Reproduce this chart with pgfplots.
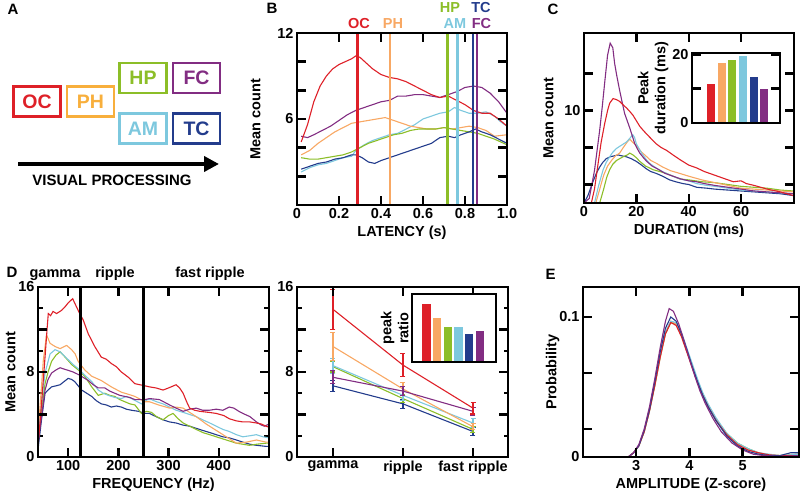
\documentclass[border=0pt]{standalone}
\usepackage{fontspec}
\setmainfont{Liberation Sans}
\usepackage{pgfplots}
\pgfplotsset{compat=1.18}
\usetikzlibrary{arrows.meta}

\definecolor{ocred}{RGB}{222,32,40}
\definecolor{phorange}{RGB}{248,168,100}
\definecolor{phbox}{RGB}{248,175,60}
\definecolor{hpgreen}{RGB}{140,190,40}
\definecolor{amcyan}{RGB}{125,200,222}
\definecolor{tcnavy}{RGB}{35,60,140}
\definecolor{fcpurple}{RGB}{130,45,130}

\newcommand{\lab}{\fontsize{14.5}{17}\selectfont\bfseries}

\pgfplotsset{
  panel/.style={
    scale only axis, anchor=south west,
    axis line style={line width=2.8pt},
    every tick/.style={line width=2.4pt, black},
    major tick length=9pt, minor tick length=4.5pt,
    tick align=inside, tick pos=both,
    scaled ticks=false,
    tick label style={font=\lab},
    label style={font=\lab},
    /pgf/number format/assume math mode=true,
    after end axis/.append code={\draw[line width=2.8pt] (rel axis cs:0,0) rectangle (rel axis cs:1,1);},
  },
  % tick marks on bottom and top edge
  hticks/.style n args={3}{after end axis/.append code={%
    \foreach \t in {#1} {%
      \draw[line width=2.4pt] (axis cs:\t,#2) -- ++(0,9pt);
      \draw[line width=2.4pt] (axis cs:\t,#3) -- ++(0,-9pt);}}},
  % tick marks on left and right edge
  vticks/.style n args={3}{after end axis/.append code={%
    \foreach \t in {#1} {%
      \draw[line width=2.4pt] (axis cs:#2,\t) -- ++(9pt,0);
      \draw[line width=2.4pt] (axis cs:#3,\t) -- ++(-9pt,0);}}},
  cv/.style={line width=1.1pt, mark=none},
}

\begin{document}
\begin{tikzpicture}
\path[use as bounding box] (0,0) rectangle (800pt,500pt);

% ---------- panel letters ----------
\node[anchor=base west, font=\fontsize{15}{15}\selectfont\bfseries] at (4pt,485pt) {A};
\node[anchor=base west, font=\fontsize{15}{15}\selectfont\bfseries] at (263pt,486pt) {B};
\node[anchor=base west, font=\fontsize{15}{15}\selectfont\bfseries] at (544pt,485pt) {C};
\node[anchor=base west, font=\fontsize{15}{15}\selectfont\bfseries] at (3pt,222pt) {D};
\node[anchor=base west, font=\fontsize{15}{15}\selectfont\bfseries] at (542pt,220pt) {E};

% ---------- A: diagram ----------
\tikzset{regionbox/.style={draw=#1, text=#1, line width=2.2pt, minimum width=47pt, minimum height=30pt,
  inner sep=0pt, font=\fontsize{19.5}{20}\selectfont\bfseries}}
\node[regionbox=ocred] at (37pt,398.5pt) {OC};
\node[regionbox=phbox] at (90.5pt,398.5pt) {PH};
\node[regionbox=hpgreen] at (143pt,422pt) {HP};
\node[regionbox=fcpurple] at (196.5pt,422pt) {FC};
\node[regionbox=amcyan] at (143pt,371.5pt) {AM};
\node[regionbox=tcnavy] at (196.5pt,371.5pt) {TC};
\draw[line width=4pt, -{Triangle[length=15pt, width=15pt]}] (18pt,336pt) -- (219pt,336pt);
\node[font=\fontsize{15}{15}\selectfont\bfseries] at (112pt,320pt) {VISUAL PROCESSING};

% ---------- B: latency ----------
\begin{axis}[panel, at={(297pt,295pt)}, width=210pt, height=172pt,
  xmin=0, xmax=1, ymin=0, ymax=12,
  xtick={0,0.2,0.4,0.6,0.8,1}, xticklabels={0,0.2,0.4,0.6,0.8,1.0},
  ytick={0,2,4,6,8,10,12}, yticklabels={,,,6,,,12},
  hticks={{0.2,0.4,0.6,0.8}{0}{12}}, vticks={{2,4,6,8,10}{0}{1}},
  xlabel={LATENCY (s)}, ylabel={Mean count}, ylabel shift=10pt]
\addplot[cv, amcyan] coordinates {(0.02,2.3) (0.06,2.6) (0.10,2.8) (0.14,2.9) (0.18,3.1) (0.22,3.3) (0.26,3.4) (0.28,3.8) (0.32,4.2) (0.36,4.5) (0.40,4.7) (0.44,4.9) (0.48,5.0) (0.52,5.3) (0.56,5.6) (0.60,6.0) (0.64,6.2) (0.68,6.4) (0.72,6.5) (0.75,6.8) (0.78,6.6) (0.82,6.4) (0.86,6.4) (0.90,6.5) (0.94,6.2) (0.97,5.8) (1.00,5.5)};
\addplot[cv, phorange] coordinates {(0.02,3.5) (0.06,3.8) (0.10,4.3) (0.14,4.7) (0.18,5.1) (0.22,5.4) (0.26,5.7) (0.30,5.8) (0.34,5.9) (0.38,6.0) (0.42,6.1) (0.46,5.9) (0.50,5.7) (0.54,5.5) (0.58,5.4) (0.62,5.3) (0.66,5.3) (0.70,5.4) (0.74,5.3) (0.78,5.4) (0.82,5.5) (0.86,5.4) (0.90,5.2) (0.94,4.8) (1.00,4.9)};
\addplot[cv, hpgreen] coordinates {(0.02,3.3) (0.06,3.2) (0.10,3.2) (0.14,3.3) (0.18,3.4) (0.22,3.5) (0.26,3.7) (0.30,4.0) (0.34,4.3) (0.38,4.5) (0.42,4.7) (0.46,4.9) (0.50,5.0) (0.54,5.2) (0.58,5.3) (0.62,5.3) (0.66,5.3) (0.70,5.4) (0.74,5.3) (0.78,5.2) (0.82,5.1) (0.86,5.0) (0.90,4.8) (0.94,4.6) (1.00,4.2)};
\addplot[cv, tcnavy] coordinates {(0.02,2.5) (0.06,2.7) (0.10,2.9) (0.14,3.0) (0.18,3.2) (0.22,3.3) (0.26,3.5) (0.28,3.5) (0.31,3.3) (0.34,3.0) (0.37,2.9) (0.40,3.1) (0.44,3.3) (0.48,3.5) (0.52,3.7) (0.56,3.9) (0.60,4.1) (0.64,4.3) (0.68,4.7) (0.72,4.8) (0.75,4.7) (0.78,4.9) (0.82,5.1) (0.85,5.3) (0.88,5.1) (0.92,4.9) (0.96,4.6) (1.00,4.3)};
\addplot[cv, fcpurple] coordinates {(0.02,4.8) (0.05,4.7) (0.08,4.9) (0.12,5.2) (0.16,5.5) (0.20,5.9) (0.24,6.3) (0.28,6.6) (0.32,6.8) (0.36,7.0) (0.40,7.2) (0.44,7.3) (0.48,7.6) (0.52,7.6) (0.56,7.7) (0.60,7.7) (0.64,7.6) (0.68,7.5) (0.72,7.7) (0.76,7.9) (0.80,8.2) (0.84,8.3) (0.88,8.2) (0.92,7.8) (0.96,7.2) (1.00,6.4)};
\addplot[cv, ocred] coordinates {(0.02,4.4) (0.05,5.6) (0.08,7.2) (0.11,8.3) (0.14,9.0) (0.17,9.5) (0.20,9.8) (0.23,10.0) (0.26,10.2) (0.28,10.4) (0.30,10.3) (0.33,9.9) (0.36,9.5) (0.40,9.1) (0.44,8.9) (0.48,8.8) (0.52,8.6) (0.56,8.3) (0.60,8.0) (0.64,7.7) (0.68,7.5) (0.72,7.6) (0.76,7.3) (0.80,7.0) (0.84,6.6) (0.88,6.4) (0.92,6.4) (0.96,6.0) (1.00,5.5)};
\addplot[ocred, line width=2.5pt] coordinates {(0.289,0) (0.289,12)};
\addplot[phorange, line width=2.5pt] coordinates {(0.444,0) (0.444,12)};
\addplot[hpgreen, line width=2.5pt] coordinates {(0.717,0) (0.717,12)};
\addplot[amcyan, line width=2.5pt] coordinates {(0.765,0) (0.765,12)};
\addplot[tcnavy, line width=2.5pt] coordinates {(0.838,0) (0.838,12)};
\addplot[fcpurple, line width=2.5pt] coordinates {(0.857,0) (0.857,12)};
\end{axis}
\node[anchor=base, text=ocred, font=\lab] at (359pt,471pt) {OC};
\node[anchor=base, text=phorange, font=\lab] at (393pt,471pt) {PH};
\node[anchor=base, text=hpgreen, font=\lab] at (450pt,487pt) {HP};
\node[anchor=base, text=amcyan, font=\lab] at (455pt,471pt) {AM};
\node[anchor=base, text=tcnavy, font=\lab] at (481pt,487pt) {TC};
\node[anchor=base, text=fcpurple, font=\lab] at (481.5pt,471pt) {FC};

% ---------- C: duration ----------
\begin{axis}[panel, at={(584pt,297pt)}, width=210pt, height=170pt,
  xmin=0, xmax=80.2, ymin=0, ymax=18.4,
  xtick={0,20,40,60}, ytick={2,6,10,14}, yticklabels={,,10,},
  hticks={{20,40,60}{0}{18.4}}, vticks={{2,6,10,14}{0}{80.2}},
  xlabel={DURATION (ms)}, ylabel={Mean count}, ylabel shift=4pt]
\addplot[cv, tcnavy] coordinates {(0,0) (1.5,0.8) (3.4,2.3) (4.7,3.2) (6,3.9) (7.2,4.4) (8.5,4.8) (10,5.0) (11.5,5.1) (13,5.2) (14.5,5.1) (16.2,5.0) (18,4.8) (20,4.5) (22,4.1) (23.8,3.7) (25.5,3.4) (27.6,3.2) (30,2.9) (32.7,2.5) (35,2.3) (37.8,2.1) (40,2.0) (43,1.7) (47,1.6) (50,1.5) (55,1.4) (60,1.3) (65,1.2) (70,1.1) (75,1.0) (80,0.8)};
\addplot[cv, hpgreen] coordinates {(0,0) (6,0) (7.5,1.5) (8.7,2.8) (9.8,3.6) (11,4.2) (12.4,4.6) (14.9,5.0) (16.5,5.2) (17.5,5.4) (18.7,5.2) (20,4.9) (21.3,4.5) (23.5,4.0) (26.4,3.6) (29,3.4) (31.5,3.2) (34,2.9) (36.6,2.6) (40,2.5) (45,2.3) (50,2.2) (55,2.0) (60,1.8) (65,1.7) (70,1.6) (75,1.4) (80,1.3)};
\addplot[cv, phorange] coordinates {(0,0) (4.5,0) (6,1.5) (7.5,3.0) (9,4.0) (10.5,4.6) (12,5.1) (13.6,5.4) (15,6.0) (16.5,6.6) (17.5,6.9) (18.5,6.6) (20,6.2) (22,5.5) (24,5.0) (25.5,4.6) (27.6,4.3) (30,3.9) (33,3.5) (36.6,3.2) (40,2.9) (45,2.5) (50,2.2) (55,1.9) (60,1.6) (65,1.5) (70,1.4) (75,1.3) (80,1.2)};
\addplot[cv, amcyan] coordinates {(0,0) (4,0) (5.5,1.8) (7.3,3.6) (8.5,4.4) (9.8,5.0) (11,5.5) (12.4,5.9) (14,6.2) (16.2,6.6) (17.5,7.0) (18.6,7.4) (19.3,7.1) (20,6.4) (21,5.9) (22,5.4) (23.5,4.8) (25,4.3) (27.5,3.8) (30,3.4) (33,3.0) (36.6,2.6) (40,2.4) (43,2.1) (47,1.9) (50,1.8) (55,1.6) (60,1.4) (65,1.3) (70,1.2) (75,1.1) (80,1.0)};
\addplot[cv, fcpurple] coordinates {(0,0) (2,0.5) (4,3.5) (6,7.9) (7,10.5) (8,13.3) (9,16.0) (10,17.3) (11,16.8) (11.7,15.1) (12.5,13.8) (13.6,12.2) (14.5,11.0) (15.5,9.7) (16.5,8.9) (17.5,8.1) (18.5,7.2) (19.4,6.4) (20.5,5.8) (21.3,5.4) (23,4.8) (24,4.5) (26,4.0) (28,3.7) (31,3.2) (34,2.9) (37,2.6) (40,2.4) (43,2.3) (46,2.1) (50,1.9) (55,1.7) (60,1.5) (65,1.3) (70,1.2) (75,1.1) (80,1.0)};
\addplot[cv, ocred] coordinates {(0,0) (2.8,0) (4,1.5) (5.4,4.3) (6.5,6.5) (7.9,8.6) (9,10.0) (9.8,10.8) (11.1,11.3) (12.3,11.2) (13.6,11.0) (15,10.6) (16.2,10.3) (17.5,9.9) (18.7,9.5) (20,8.9) (21.3,8.3) (22.5,7.9) (23.8,7.5) (25.5,7.0) (27.6,6.4) (29.5,6.0) (31.5,5.7) (34,5.2) (36.6,4.7) (40,4.1) (43,3.8) (46,3.4) (50,3.0) (54,2.6) (57,2.3) (60,2.4) (62,2.1) (65,1.9) (70,1.5) (75,1.2) (80,0.8)};
\end{axis}

% inset C
\begin{axis}[panel, at={(692pt,377pt)}, width=88pt, height=70pt,
  axis background/.style={fill=white},
  xmin=-0.78, xmax=7.47, ymin=0, ymax=20.4,
  xtick=\empty, ytick={0,10,20}, yticklabels={0,,20},
  vticks={{10}{-0.78}{7.47}},
  ybar=0pt, bar width=8.3pt,
  ylabel={Peak\\duration (ms)}, ylabel style={align=center}, ylabel shift=-3pt]
\addplot[fill=ocred, draw=none, bar shift=0pt] coordinates {(1,11.5)};
\addplot[fill=phorange, draw=none, bar shift=0pt] coordinates {(2,17.5)};
\addplot[fill=hpgreen, draw=none, bar shift=0pt] coordinates {(3,18.5)};
\addplot[fill=amcyan, draw=none, bar shift=0pt] coordinates {(4,19.4)};
\addplot[fill=tcnavy, draw=none, bar shift=0pt] coordinates {(5,13.5)};
\addplot[fill=fcpurple, draw=none, bar shift=0pt] coordinates {(6,10.0)};
\end{axis}

% ---------- D left: frequency ----------
\begin{axis}[panel, at={(38pt,43pt)}, width=231pt, height=170pt,
  xmin=40, xmax=500, ymin=0, ymax=16,
  xtick={100,200,300,400}, ytick={0,4,8,12,16}, yticklabels={0,,8,,16},
  minor y tick num=1,
  hticks={{100,200,300,400}{0}{16}}, vticks={{4,8,12}{40}{500}},
  xlabel={FREQUENCY (Hz)}, ylabel={Mean count}, ylabel shift=-4pt]
\addplot[cv, tcnavy] coordinates {(40,0.7) (47,3.5) (54,6.0) (60,6.3) (67,6.6) (76,6.7) (84,6.8) (92,7.1) (100,7.4) (107,7.3) (113,7.1) (120,6.7) (127,6.3) (137,6.0) (147,5.7) (156,5.3) (166,5.0) (176,4.9) (186,4.7) (196,4.8) (206,4.7) (216,4.5) (226,4.4) (240,4.3) (253,4.1) (262,4.1) (275,3.8) (289,3.5) (302,3.3) (315,3.2) (329,3.0) (342,2.9) (355,2.7) (368,2.5) (382,2.3) (395,2.1) (408,1.9) (421,1.8) (435,1.6) (448,1.4) (462,1.2) (475,1.1) (494,1.0) (500,1.0)};
\addplot[cv, hpgreen] coordinates {(40,1.6) (47,4.5) (54,6.9) (60,8.0) (67,9.0) (76,9.6) (84,9.9) (94,9.4) (107,8.7) (120,8.2) (133,7.6) (147,6.6) (160,5.8) (173,6.0) (183,5.8) (193,5.7) (203,5.4) (213,5.2) (223,5.0) (233,4.9) (246,4.1) (256,4.3) (266,4.2) (276,3.8) (289,3.5) (300,3.9) (309,4.1) (319,3.6) (329,3.2) (342,2.9) (355,2.6) (368,2.3) (382,2.1) (395,1.9) (415,1.6) (435,1.3) (448,1.2) (461,1.1) (475,1.2) (494,1.3) (500,1.3)};
\addplot[cv, amcyan] coordinates {(40,1.9) (47,5.0) (54,7.9) (64,9.7) (74,10.1) (84,9.9) (97,9.3) (110,8.7) (123,8.2) (133,7.7) (147,7.1) (160,6.3) (170,6.0) (180,5.8) (193,5.6) (206,5.5) (216,5.7) (226,5.5) (246,5.0) (258,5.4) (266,5.4) (276,5.2) (289,5.0) (302,4.7) (315,4.4) (329,4.2) (342,4.0) (355,3.8) (368,3.5) (382,3.2) (395,2.9) (408,2.6) (421,2.4) (435,2.1) (448,1.9) (462,2.0) (475,2.1) (488,1.9) (500,1.8)};
\addplot[cv, phorange] coordinates {(40,2.2) (46,6.0) (50.6,9.1) (57,11.5) (64,10.7) (74,10.4) (84,10.2) (97,10.5) (107,10.1) (114,9.7) (120,9.0) (133,8.2) (147,7.6) (166,7.2) (186,6.6) (206,6.1) (220,5.9) (233,5.7) (253,5.2) (262,5.2) (280,4.9) (302,4.6) (315,4.7) (329,4.6) (342,4.2) (355,3.8) (375,3.1) (395,2.5) (415,1.9) (435,1.3) (455,1.4) (475,1.6) (494,1.4) (500,1.4)};
\addplot[cv, fcpurple] coordinates {(40,1.3) (47,3.8) (54,6.3) (60,7.3) (67,7.9) (76,8.2) (84,8.4) (97,8.2) (110,8.0) (123,7.7) (140,7.2) (150,6.8) (160,6.5) (173,6.5) (183,6.2) (193,6.0) (203,5.8) (213,5.7) (223,5.6) (233,5.4) (253,5.4) (262,5.5) (282,5.4) (302,4.9) (315,4.6) (329,4.3) (342,4.5) (355,4.6) (368,4.4) (381,4.4) (395,4.5) (408,4.4) (421,4.7) (430,4.6) (440,4.3) (448,4.1) (462,3.8) (475,3.3) (485,3.0) (491,2.9) (500,3.1)};
\addplot[cv, ocred] coordinates {(40,1.0) (47,5.0) (54,9.4) (58,12.0) (60.5,13.5) (65,13.3) (70,13.7) (77,13.5) (87,13.8) (95,14.2) (100,14.5) (109,14.9) (117,14.1) (123,13.5) (130,12.9) (140,11.6) (153,10.4) (166,9.4) (176,9.2) (186,8.8) (196,8.5) (206,8.0) (220,7.5) (233,6.9) (253,6.7) (262,6.6) (275,6.5) (289,6.3) (300,6.5) (315,6.8) (322,6.5) (329,6.0) (336,5.2) (342,4.6) (352,4.4) (362,4.3) (380,4.2) (395,4.1) (410,3.9) (421,3.6) (435,3.4) (448,3.3) (462,3.3) (475,3.2) (485,3.1) (494,2.9) (500,2.8)};
\addplot[black, line width=2.4pt] coordinates {(125,0) (125,16)};
\addplot[black, line width=2.4pt] coordinates {(250,0) (250,16)};
\end{axis}
\node[anchor=base, font=\lab] at (55pt,222pt) {gamma};
\node[anchor=base, font=\lab] at (115pt,222pt) {ripple};
\node[anchor=base, font=\lab] at (210pt,222pt) {fast ripple};

% ---------- D right: bands ----------
\begin{axis}[panel, at={(297pt,43pt)}, width=211pt, height=170pt,
  xmin=-0.514, xmax=2.5, ymin=0, ymax=16,
  xtick={0,1,2}, xticklabels={gamma,ripple,fast ripple},
  ytick={0,4,8,12,16}, yticklabels={0,,8,,16}, minor y tick num=1,
  hticks={{0,1,2}{0}{16}}, vticks={{4,8,12}{-0.514}{2.5}},
  error bars/error bar style={line width=1.1pt},
  error bars/error mark options={mark size=2.5pt, line width=1.1pt, rotate=90}]
\addplot[cv, tcnavy, error bars/.cd, y dir=both, y explicit] coordinates {(0,6.7) +- (0,0.5) (1,5.0) +- (0,0.4) (2,2.4) +- (0,0.4)};
\addplot[cv, hpgreen, error bars/.cd, y dir=both, y explicit] coordinates {(0,8.5) +- (0,0.5) (1,5.5) +- (0,0.4) (2,2.6) +- (0,0.3)};
\addplot[cv, amcyan, error bars/.cd, y dir=both, y explicit] coordinates {(0,8.6) +- (0,0.7) (1,5.8) +- (0,0.5) (2,3.2) +- (0,0.4)};
\addplot[cv, phorange, error bars/.cd, y dir=both, y explicit] coordinates {(0,10.4) +- (0,1.3) (1,6.4) +- (0,0.6) (2,2.85) +- (0,0.3)};
\addplot[cv, fcpurple, error bars/.cd, y dir=both, y explicit] coordinates {(0,7.5) +- (0,0.6) (1,6.2) +- (0,0.4) (2,4.3) +- (0,0.4)};
\addplot[cv, ocred, error bars/.cd, y dir=both, y explicit] coordinates {(0,13.9) +- (0,1.9) (1,8.65) +- (0,1.1) (2,4.6) +- (0,0.55)};
\end{axis}

% inset D
\begin{axis}[panel, at={(412pt,138pt)}, width=84pt, height=68pt,
  axis background/.style={fill=white},
  xmin=-0.36, xmax=7.5, ymin=0, ymax=205,
  xtick=\empty, ytick=\empty,
  ybar=0pt, bar width=8.3pt,
  ylabel={peak\\ratio}, ylabel style={align=center}]
\addplot[fill=ocred, draw=none, bar shift=0pt] coordinates {(1,176)};
\addplot[fill=phorange, draw=none, bar shift=0pt] coordinates {(2,132)};
\addplot[fill=hpgreen, draw=none, bar shift=0pt] coordinates {(3,107)};
\addplot[fill=amcyan, draw=none, bar shift=0pt] coordinates {(4,107)};
\addplot[fill=tcnavy, draw=none, bar shift=0pt] coordinates {(5,84)};
\addplot[fill=fcpurple, draw=none, bar shift=0pt] coordinates {(6,93)};
\end{axis}

% ---------- E: amplitude ----------
\begin{axis}[panel, at={(583pt,43pt)}, width=216pt, height=170pt,
  xmin=2, xmax=6.06, ymin=0, ymax=0.1214,
  xtick={3,4,5}, ytick={0,0.02,0.06,0.1}, yticklabels={0,,,0.1},
  hticks={{3,4,5}{0}{0.1214}}, vticks={{0.02,0.06,0.1}{2}{6.06}},
  xlabel={AMPLITUDE (Z-score)}, ylabel={Probability}, ylabel shift=-7pt]
\addplot[cv, hpgreen] coordinates {(2.0,0) (2.85,0) (2.95,0.003) (3.05,0.008) (3.15,0.018) (3.25,0.033) (3.35,0.051) (3.45,0.071) (3.55,0.088) (3.65,0.096) (3.75,0.095) (3.85,0.087) (3.95,0.076) (4.05,0.065) (4.15,0.054) (4.25,0.045) (4.35,0.037) (4.5,0.027) (4.7,0.017) (4.9,0.010) (5.1,0.006) (5.3,0.003) (5.5,0.0015) (5.7,0.001) (5.9,0.0015) (6.06,0.002)};
\addplot[cv, phorange] coordinates {(2.0,0) (2.85,0) (2.95,0.003) (3.05,0.008) (3.15,0.018) (3.25,0.033) (3.35,0.052) (3.45,0.072) (3.55,0.089) (3.65,0.097) (3.75,0.095) (3.85,0.087) (3.95,0.076) (4.05,0.065) (4.15,0.054) (4.25,0.045) (4.35,0.037) (4.5,0.027) (4.7,0.016) (4.9,0.009) (5.1,0.005) (5.3,0.003) (5.5,0.0015) (5.7,0.001) (5.9,0.0015) (6.06,0.002)};
\addplot[cv, amcyan] coordinates {(2.0,0) (2.85,0) (2.95,0.003) (3.05,0.008) (3.15,0.018) (3.25,0.033) (3.35,0.052) (3.45,0.072) (3.55,0.089) (3.65,0.097) (3.75,0.096) (3.85,0.089) (3.95,0.078) (4.05,0.067) (4.15,0.056) (4.25,0.046) (4.35,0.038) (4.5,0.028) (4.7,0.017) (4.9,0.010) (5.1,0.006) (5.3,0.003) (5.5,0.002) (5.7,0.001) (5.9,0.0015) (6.06,0.002)};
\addplot[cv, ocred] coordinates {(2.0,0) (2.85,0) (2.95,0.003) (3.05,0.008) (3.15,0.018) (3.25,0.033) (3.35,0.051) (3.45,0.071) (3.55,0.088) (3.65,0.096) (3.75,0.094) (3.85,0.086) (3.95,0.075) (4.05,0.064) (4.15,0.053) (4.25,0.044) (4.35,0.036) (4.5,0.026) (4.7,0.016) (4.9,0.009) (5.1,0.005) (5.3,0.003) (5.5,0.0015) (5.7,0.001) (5.9,0.001) (6.06,0.001)};
\addplot[cv, tcnavy] coordinates {(2.0,0) (2.85,0) (2.95,0.003) (3.05,0.008) (3.15,0.019) (3.25,0.034) (3.35,0.054) (3.45,0.075) (3.55,0.092) (3.65,0.100) (3.75,0.097) (3.85,0.088) (3.95,0.077) (4.05,0.065) (4.15,0.054) (4.25,0.044) (4.35,0.036) (4.5,0.026) (4.7,0.015) (4.9,0.008) (5.1,0.004) (5.3,0.002) (5.5,0.001) (5.7,0.001) (5.9,0.003) (6.06,0.003)};
\addplot[cv, fcpurple] coordinates {(2.0,0) (2.85,0) (2.95,0.003) (3.05,0.009) (3.15,0.020) (3.25,0.036) (3.35,0.056) (3.45,0.078) (3.55,0.097) (3.62,0.106) (3.7,0.104) (3.8,0.095) (3.9,0.083) (4.0,0.070) (4.1,0.058) (4.2,0.047) (4.3,0.038) (4.45,0.027) (4.6,0.018) (4.8,0.010) (5.0,0.005) (5.2,0.002) (5.4,0.001) (5.7,0.0005) (6.06,0.001)};
\end{axis}
\end{tikzpicture}
\end{document}
